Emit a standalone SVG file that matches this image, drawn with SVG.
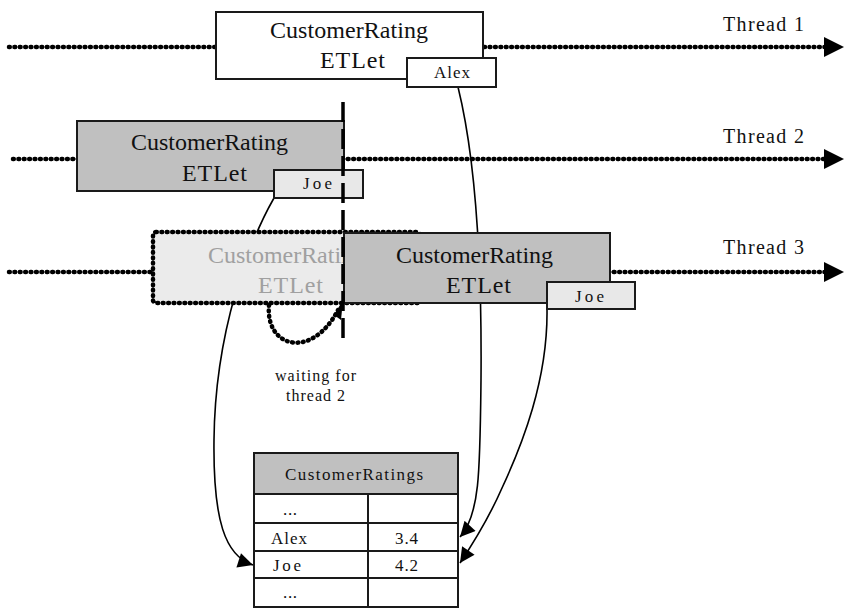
<svg xmlns="http://www.w3.org/2000/svg" width="844" height="608" viewBox="0 0 844 608">
  <style>
    .thread{fill:none;stroke:#000;stroke-width:4.5;stroke-dasharray:0.8 4.6;stroke-linecap:round}
    .conn{fill:none;stroke:#000;stroke-width:1.6}
    .box{stroke:#1a1a1a;stroke-width:2}
    .t{font-family:"Liberation Serif","DejaVu Serif",serif;fill:#111}
    .title{font-size:24px}
    .small{font-size:17px}
    .lbl{font-size:20px}
    .ghost{fill:#a0a0a0}
    .cell{fill:#fff;stroke:#1a1a1a;stroke-width:2}
  </style>
  <defs>
    <marker id="carrow" markerUnits="userSpaceOnUse" viewBox="0 0 10 10" refX="10" refY="5" markerWidth="20" markerHeight="15" orient="auto">
      <path d="M0,0 L10,5 L0,10 z" fill="#000"/>
    </marker>
    <clipPath id="ghostclip"><rect x="150" y="228" width="193" height="80"/></clipPath>
  </defs>

  <g id="threads">
    <line class="thread" x1="9" y1="47" x2="826" y2="47"/>
    <path d="M824,37 L844,47 L824,57 z" fill="#000"/>
    <line class="thread" x1="13" y1="159" x2="826" y2="159"/>
    <path d="M824,149 L844,159 L824,169 z" fill="#000"/>
    <line class="thread" x1="9" y1="272" x2="826" y2="272"/>
    <path d="M824,262 L844,272 L824,282 z" fill="#000"/>
    <text class="t lbl" x="723" y="31" textLength="81">Thread 1</text>
    <text class="t lbl" x="723" y="143" textLength="81">Thread 2</text>
    <text class="t lbl" x="723" y="254" textLength="81">Thread 3</text>
  </g>

  <g id="connectors">
    <path class="conn" d="M458,87 C476,160 482,260 481,380 C480,470 480,515 460,537" marker-end="url(#carrow)"/>
    <path class="conn" d="M547,309 C548,380 522,445 502,488 C488,520 472,545 460,563" marker-end="url(#carrow)"/>
    <path class="conn" d="M274,198 C250,240 215,330 214,440 C213,520 225,556 253,565" marker-end="url(#carrow)"/>
  </g>

  <g id="etlet1">
    <rect class="box" x="216" y="12" width="267" height="67" fill="#fff"/>
    <text class="t title" x="270" y="38" textLength="158">CustomerRating</text>
    <text class="t title" x="320" y="68" textLength="65">ETLet</text>
  </g>
  <g id="alex1">
    <rect class="box" x="407" y="58" width="89" height="29" fill="#fff"/>
    <text class="t small" x="434" y="78" textLength="36">Alex</text>
  </g>

  <g id="etlet2">
    <rect class="box" x="77" y="121" width="267" height="70" fill="#c0c0c0"/>
    <text class="t title" x="131" y="150" textLength="157">CustomerRating</text>
    <text class="t title" x="182" y="181" textLength="65">ETLet</text>
  </g>
  <g id="joe2">
    <rect class="box" x="274" y="170" width="89" height="28" fill="#e8e8e8"/>
    <text class="t small" x="303" y="189" textLength="29">Joe</text>
  </g>

  <g id="etlet3ghost">
    <rect x="153" y="232" width="267" height="71" rx="3" fill="#ebebeb" stroke="#000" stroke-width="4.5" stroke-dasharray="0.8 4.6" stroke-linecap="round"/>
    <g clip-path="url(#ghostclip)">
      <text class="t title ghost" x="208" y="263" textLength="157">CustomerRating</text>
      <text class="t title ghost" x="258" y="293" textLength="65">ETLet</text>
    </g>
  </g>
  <g id="etlet3">
    <rect class="box" x="344" y="233" width="266" height="70" fill="#c0c0c0"/>
    <text class="t title" x="396" y="263" textLength="157">CustomerRating</text>
    <text class="t title" x="446" y="293" textLength="65">ETLet</text>
  </g>
  <g id="joe3">
    <rect class="box" x="547" y="282" width="88" height="27" fill="#e8e8e8"/>
    <text class="t small" x="575" y="302" textLength="29">Joe</text>
  </g>

  <g id="sync">
    <line x1="343" y1="102" x2="343" y2="345" stroke="#000" stroke-width="3.5" stroke-dasharray="20 7"/>
    <path d="M269,305 C265,348 312,360 338,310" fill="none" stroke="#000" stroke-width="4.5" stroke-dasharray="0.8 4.6" stroke-linecap="round"/>
    <path d="M343,300 L341,320 L334,315 z" fill="#000"/>
    <text class="t" font-size="16" x="275" y="381" textLength="81">waiting for</text>
    <text class="t" font-size="16" x="286" y="401" textLength="59">thread 2</text>
  </g>

  <g id="table">
    <rect class="cell" x="254" y="453" width="204" height="41" style="fill:#c0c0c0"/>
    <rect class="cell" x="254" y="494" width="204" height="113"/>
    <line x1="254" y1="523" x2="458" y2="523" stroke="#1a1a1a" stroke-width="2"/>
    <line x1="254" y1="551" x2="458" y2="551" stroke="#1a1a1a" stroke-width="2"/>
    <line x1="254" y1="578" x2="458" y2="578" stroke="#1a1a1a" stroke-width="2"/>
    <line x1="368" y1="494" x2="368" y2="607" stroke="#1a1a1a" stroke-width="2"/>
    <text class="t small" x="285" y="480" textLength="138">CustomerRatings</text>
    <text class="t small" x="283" y="515" textLength="14">...</text>
    <text class="t small" x="271" y="544" textLength="36">Alex</text>
    <text class="t small" x="395" y="544" textLength="23">3.4</text>
    <text class="t small" x="273" y="571" textLength="28">Joe</text>
    <text class="t small" x="395" y="571" textLength="23">4.2</text>
    <text class="t small" x="283" y="598" textLength="14">...</text>
  </g>
</svg>
